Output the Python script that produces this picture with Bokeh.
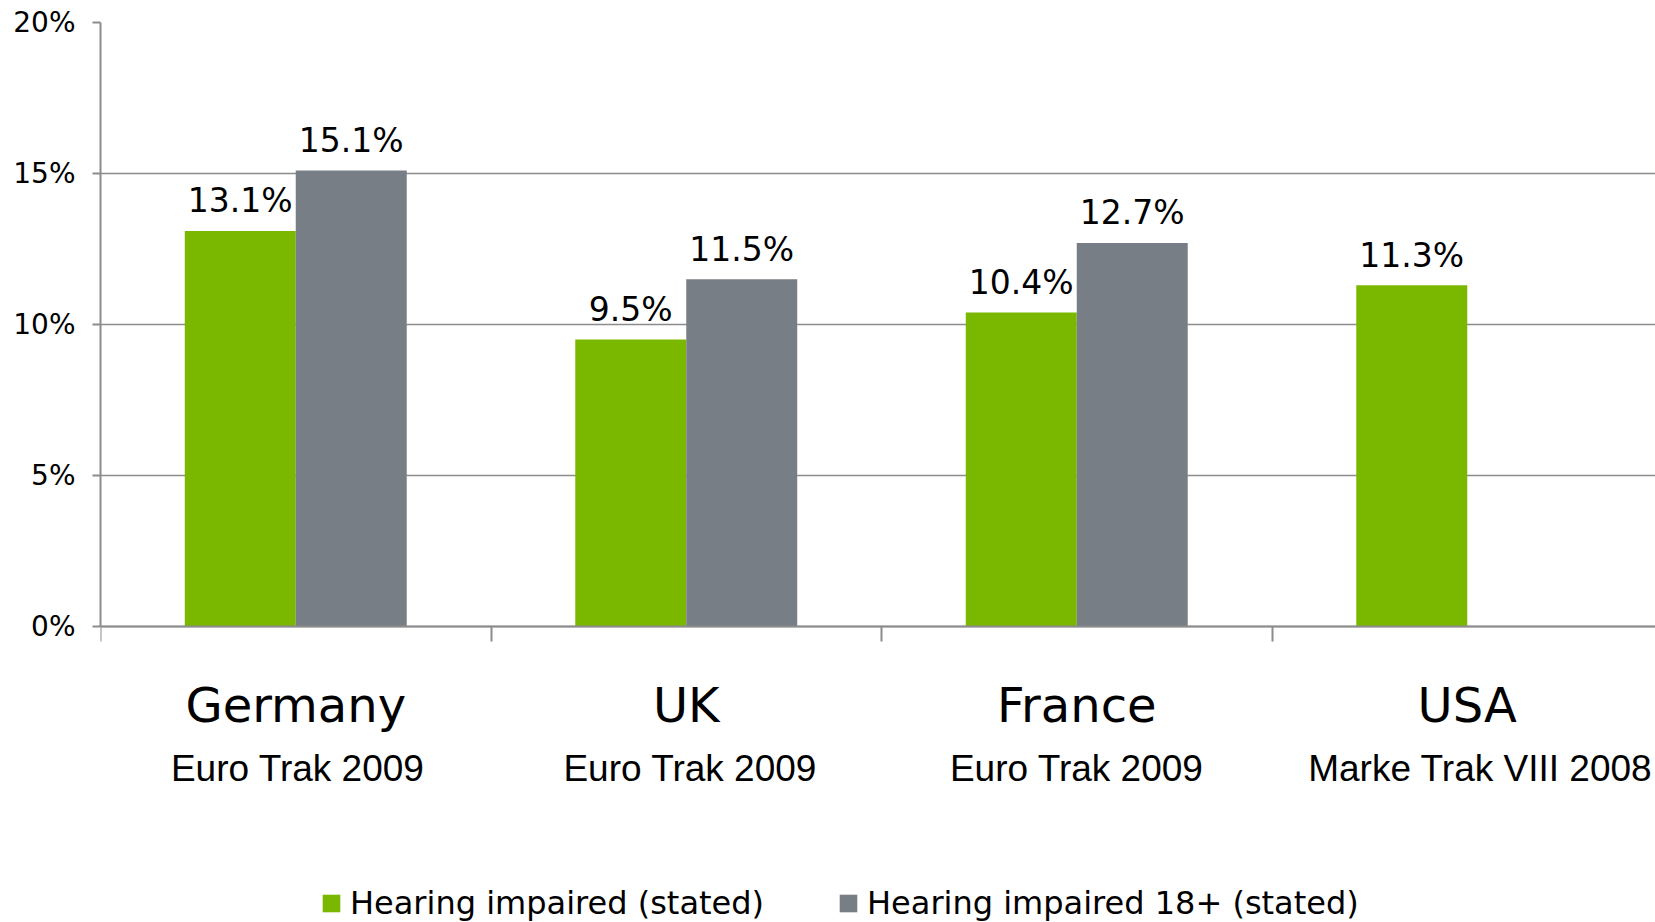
from bokeh.plotting import figure
from bokeh.models import (ColumnDataSource, Range1d, FixedTicker, Legend, LegendItem, LinearAxis)
from bokeh.core.properties import value
from bokeh.embed import file_html
from bokeh.resources import INLINE

# ---- data ----
countries = ["Germany", "UK", "France", "USA"]
surveys = ["Euro Trak 2009", "Euro Trak 2009", "Euro Trak 2009", "Marke Trak VIII 2008"]
series_names = ["Hearing impaired (stated)", "Hearing impaired 18+ (stated)"]
impaired = [13.1, 9.5, 10.4, 11.3]
impaired_18 = [15.1, 11.5, 12.7, None]
y_ticks = [0, 5, 10, 15, 20]
y_tick_labels = ["0%", "5%", "10%", "15%", "20%"]

# ---- style ----
GREEN = "#7AB800"
GRAY = "#787E85"
AXIS_GRAY = "#8c8c8c"
FONT = "DejaVu Sans"
survey_x_offsets = [2, 4, 0, 13]

W, H = 1655, 922
LEFT, RIGHT, TOP, BOTTOM = 100, 0, 22, 0
frame_w = W - LEFT - RIGHT
frame_h = H - TOP - BOTTOM
band_px = 390.5
x_end = frame_w / band_px
px_per_unit_y = 604 / 20.0
y_start = 20 - frame_h / px_per_unit_y
BAR_W = 0.2842

n = len(countries)
xs_a = [i + 0.5 - BAR_W / 2 for i in range(n)]
xs_b = [i + 0.5 + BAR_W / 2 for i in range(n)]
top_a = [float(v) for v in impaired]
top_b = [float("nan") if v is None else float(v) for v in impaired_18]
lab_a = [f"{v}%" for v in impaired]
lab_b = ["" if v is None else f"{v}%" for v in impaired_18]

src_a = ColumnDataSource(dict(x=xs_a, top=top_a, label=lab_a))
src_b = ColumnDataSource(dict(x=xs_b, top=top_b, label=lab_b))
src_c = ColumnDataSource(dict(x=[i + 0.5 for i in range(n)], y=[0.0] * n,
                              country=countries, survey=surveys, xo=survey_x_offsets))

p = figure(width=W, height=H, x_range=Range1d(0, x_end), y_range=Range1d(y_start, 20),
           output_backend="svg", toolbar_location=None, x_axis_location=None,
           min_border_left=LEFT, min_border_right=RIGHT,
           min_border_top=TOP, min_border_bottom=BOTTOM)
p.outline_line_color = None
p.background_fill_color = "white"
p.border_fill_color = "white"

r1 = p.vbar(x="x", top="top", width=BAR_W, source=src_a, fill_color=GREEN, line_color=None)
r2 = p.vbar(x="x", top="top", width=BAR_W, source=src_b, fill_color=GRAY, line_color=None)

for src in (src_a, src_b):
    p.text(x="x", y="top", text="label", source=src, text_font=value(FONT),
           text_font_size="33px", text_align="center", text_baseline="alphabetic",
           y_offset=-30, text_color="#000000")

# category labels
p.text(x="x", y="y", text="country", source=src_c, text_font=value(FONT),
       text_font_size="48px", text_align="center", text_baseline="alphabetic",
       y_offset=78, text_color="#000000")
p.text(x="x", y="y", text="survey", source=src_c, text_font=value("Liberation Sans"),
       text_font_size="37px", text_align="center", text_baseline="alphabetic",
       x_offset="xo", y_offset=142, text_color="#000000")

# axes
p.xgrid.visible = False
p.ygrid.grid_line_color = AXIS_GRAY
p.ygrid.grid_line_width = 1.5

p.yaxis.ticker = FixedTicker(ticks=y_ticks)
p.yaxis.bounds = (0, 20)
p.yaxis.major_label_overrides = {t: l for t, l in zip(y_ticks, y_tick_labels)}
p.yaxis.major_label_text_font = FONT
p.yaxis.major_label_text_font_size = "28px"
p.yaxis.major_label_text_color = "#000000"
p.yaxis.major_label_standoff = 17
p.yaxis.major_tick_out = 8
p.yaxis.major_tick_in = 0
p.yaxis.minor_tick_line_color = None
p.yaxis.axis_line_color = AXIS_GRAY
p.yaxis.axis_line_width = 2
p.yaxis.major_tick_line_color = AXIS_GRAY
p.yaxis.major_tick_line_width = 2

xaxis = LinearAxis(ticker=FixedTicker(ticks=list(range(n + 1))), fixed_location=0,
                   major_tick_out=15, major_tick_in=0, minor_tick_line_color=None,
                   axis_line_color=AXIS_GRAY, axis_line_width=2,
                   major_tick_line_color=AXIS_GRAY, major_tick_line_width=2,
                   major_label_text_color=None, major_label_standoff=0)
p.add_layout(xaxis, "below")

legend = Legend(items=[LegendItem(label=series_names[0], renderers=[r1]),
                       LegendItem(label=series_names[1], renderers=[r2])],
                orientation="horizontal", location=(220, 0),
                glyph_width=22, glyph_height=22, label_standoff=8, spacing=73,
                padding=0, margin=0, border_line_color=None, background_fill_alpha=0,
                label_text_font=FONT, label_text_font_size="32px",
                label_text_color="#000000")
p.add_layout(legend)

open("out.html", "w").write(file_html(p, INLINE))
